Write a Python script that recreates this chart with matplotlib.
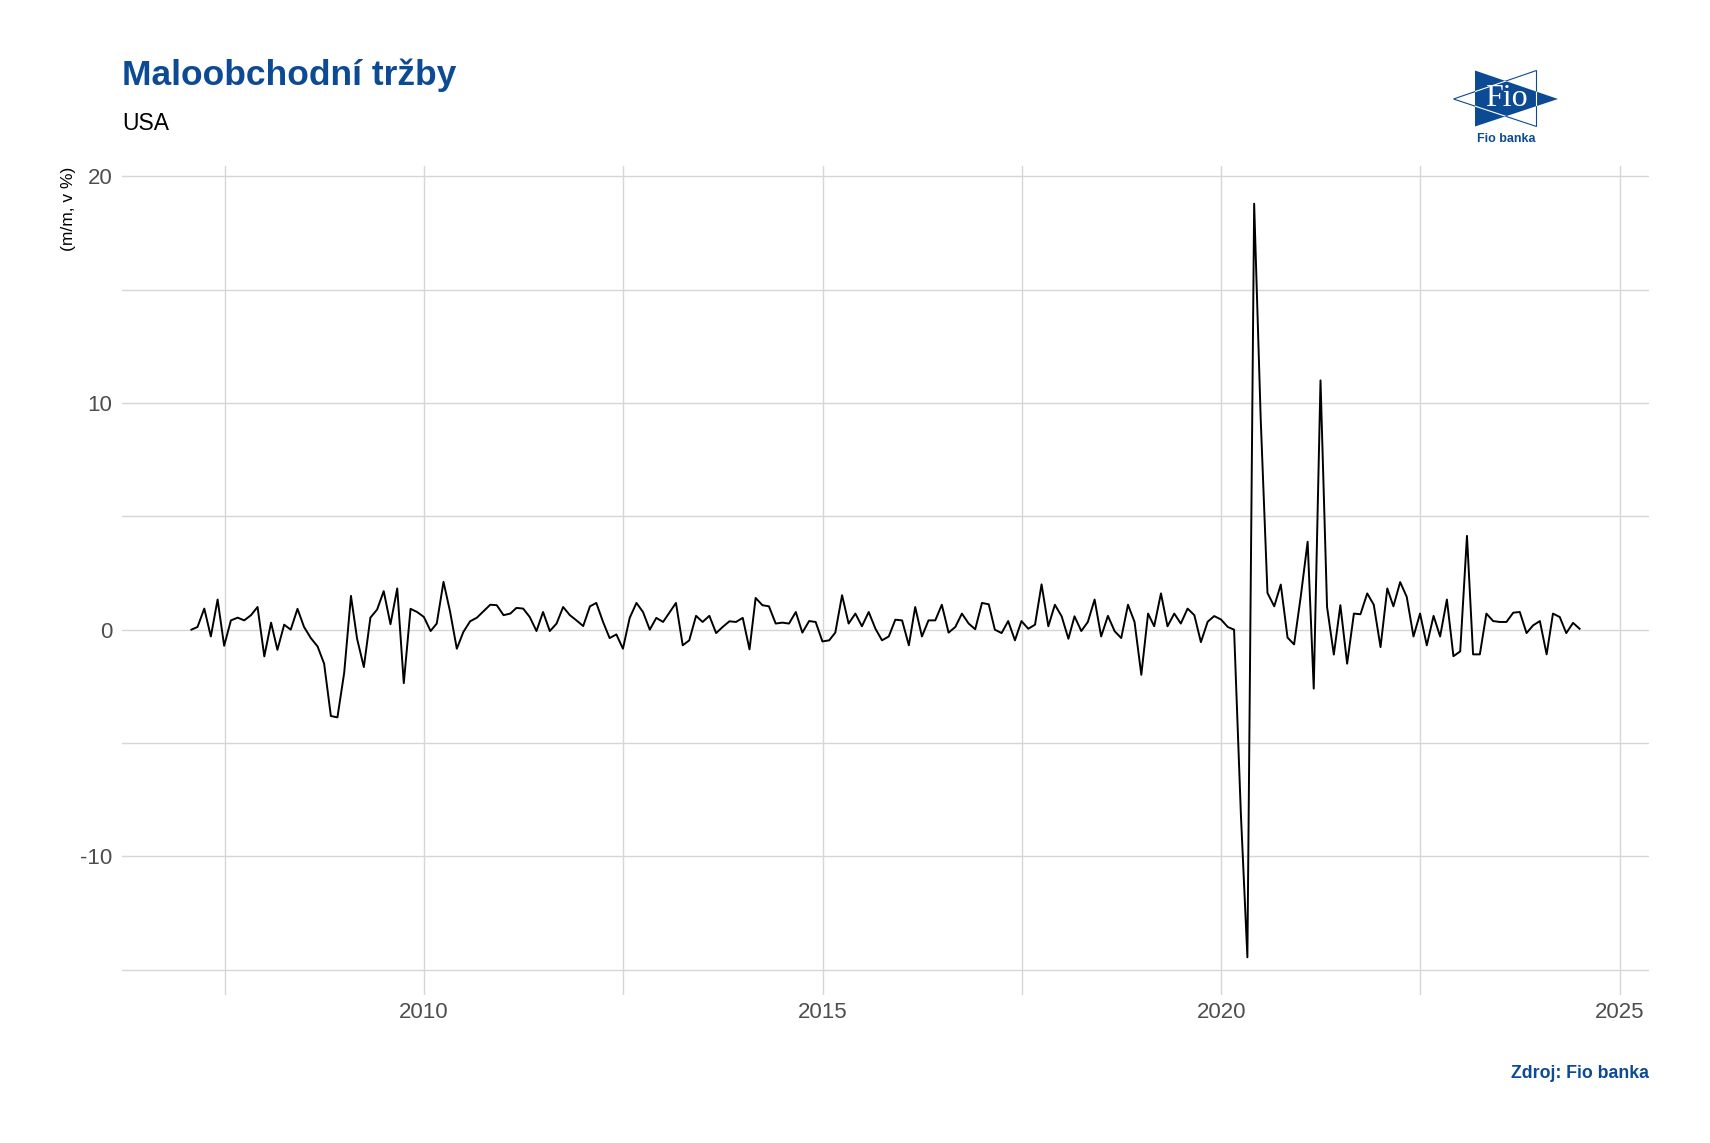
"""
Maloobchodni trzby USA - m/m change, recreated with matplotlib
"""

import pandas as pd
import matplotlib
matplotlib.use('Agg')
from matplotlib import pyplot as plt
from matplotlib.patches import Polygon

# monthly m/m change in %, Jan 2007 .. Jun 2024
values = [
    0.0, 0.12, 0.93, -0.3, 1.33, -0.71, 0.41, 0.53, 0.41, 0.64, 1.0, -1.18,      # 2007
    0.31, -0.89, 0.22, 0.0, 0.92, 0.12, -0.37, -0.74, -1.5, -3.81, -3.87, -1.9,   # 2008
    1.49, -0.4, -1.65, 0.53, 0.89, 1.7, 0.24, 1.82, -2.36, 0.92, 0.78, 0.56,      # 2009
    -0.06, 0.27, 2.11, 0.8, -0.84, -0.1, 0.37, 0.53, 0.81, 1.1, 1.08, 0.64,       # 2010
    0.71, 0.96, 0.93, 0.56, -0.06, 0.78, -0.06, 0.27, 1.0, 0.64, 0.41, 0.16,      # 2011
    1.03, 1.18, 0.34, -0.37, -0.21, -0.84, 0.52, 1.18, 0.78, 0.0, 0.52, 0.34,     # 2012
    0.78, 1.18, -0.69, -0.47, 0.61, 0.34, 0.61, -0.15, 0.12, 0.37, 0.34, 0.52,    # 2013
    -0.87, 1.4, 1.08, 1.03, 0.27, 0.31, 0.27, 0.78, -0.13, 0.38, 0.34, -0.52,     # 2014
    -0.47, -0.13, 1.52, 0.27, 0.71, 0.15, 0.78, 0.04, -0.47, -0.3, 0.44, 0.41,    # 2015
    -0.69, 1.0, -0.3, 0.41, 0.41, 1.1, -0.13, 0.12, 0.71, 0.27, 0.02, 1.18,       # 2016
    1.12, 0.0, -0.15, 0.38, -0.47, 0.38, 0.04, 0.22, 2.0, 0.15, 1.1, 0.59,        # 2017
    -0.4, 0.59, -0.06, 0.34, 1.33, -0.3, 0.61, -0.07, -0.37, 1.1, 0.34, -1.99,    # 2018
    0.71, 0.15, 1.6, 0.15, 0.71, 0.27, 0.93, 0.64, -0.55, 0.35, 0.6, 0.45,        # 2019
    0.12, 0.0, -8.1, -14.46, 18.8, 9.3, 1.62, 1.03, 1.99, -0.35, -0.65, 1.5,      # 2020
    3.88, -2.6, 11.0, 1.0, -1.1, 1.08, -1.5, 0.71, 0.68, 1.6, 1.1, -0.77,         # 2021
    1.82, 1.03, 2.1, 1.45, -0.3, 0.71, -0.69, 0.61, -0.3, 1.33, -1.17, -0.96,     # 2022
    4.14, -1.09, -1.09, 0.71, 0.38, 0.34, 0.34, 0.75, 0.78, -0.15, 0.19, 0.38,    # 2023
    -1.09, 0.71, 0.56, -0.15, 0.3, 0.04,                                          # 2024
]
dates = pd.date_range("2007-01-01", periods=len(values), freq="MS") + pd.offsets.MonthEnd(0)

y_major = [-10, 0, 10, 20]
y_minor = [-15, -5, 5, 15]
x_major = [pd.Timestamp(f"{y}-01-01") for y in (2010, 2015, 2020, 2025)]
x_minor = [pd.Timestamp(f"{y}-07-02") for y in (2007, 2012, 2017, 2022)]

blue = "#0d4a94"
grid_c = "#d6d6d6"
W, H = 1710, 1143

plt.rcParams['font.family'] = ['Liberation Sans', 'DejaVu Sans']
plt.rcParams['axes.unicode_minus'] = False

fig = plt.figure(figsize=(W / 100, H / 100), dpi=100)
ax = fig.add_axes([122 / W, 1 - 995 / H, 1527 / W, 829 / H])

ax.plot(dates, values, color="black", linewidth=1.4, zorder=3)
ax.margins(x=0.05, y=0.05)

# grid like ggplot theme_minimal
ax.set_yticks(y_major)
ax.set_yticks(y_minor, minor=True)
ax.set_xticks(x_major)
ax.set_xticks(x_minor, minor=True)
ax.set_xticklabels([str(d.year) for d in x_major])
ax.grid(which="both", color=grid_c, linewidth=1.0)
ax.set_axisbelow(True)
for s in ax.spines.values():
    s.set_visible(False)
ax.tick_params(which="both", length=0)
ax.tick_params(axis="both", labelsize=16, colors="#4d4d4d", pad=7)
ax.tick_params(axis="x", pad=5)

# titles
fig.text(122 / W, 1 - 75 / H, "Maloobchodní tržby", fontsize=25.5, fontweight="bold",
         color=blue, va="center", ha="left")
fig.text(122 / W, 1 - 124 / H, "USA", fontsize=16.5, color="black", va="center", ha="left")
fig.text(68 / W, 1 - 209 / H, "(m/m, v %)", fontsize=12.5, color="black", rotation=90,
         va="center", ha="center")
fig.text(1649 / W, 1 - 1073 / H, "Zdroj: Fio banka", fontsize=12.8, fontweight="bold",
         color=blue, va="center", ha="right")

# logo, drawn in full-pixel coordinates
lx0, lx1, ly0, ly1 = 1440, 1580, 55, 150
lax = fig.add_axes([lx0 / W, 1 - ly1 / H, (lx1 - lx0) / W, (ly1 - ly0) / H])
lax.set_xlim(lx0, lx1)
lax.set_ylim(ly1, ly0)
lax.axis("off")
tri_fill = Polygon([(1475, 70.5), (1475, 126.5), (1558, 99)], closed=True,
                   facecolor=blue, edgecolor="none")
lax.add_patch(tri_fill)
outline = [(1536.5, 70.5), (1536.5, 126.5), (1453.5, 99)]
lax.add_patch(Polygon(outline, closed=True, fill=False, edgecolor=blue, linewidth=0.8))
inner = Polygon(outline, closed=True, fill=False, edgecolor="white", linewidth=0.8)
lax.add_patch(inner)
inner.set_clip_path(tri_fill)
lax.text(1506, 98, "Fio", fontsize=23, color="white", family="Liberation Serif",
         ha="center", va="center")
lax.text(1506, 139, "Fio banka", fontsize=9, fontweight="bold", color=blue,
         ha="center", va="center")

fig.savefig("out.png", dpi=100, facecolor="white")
